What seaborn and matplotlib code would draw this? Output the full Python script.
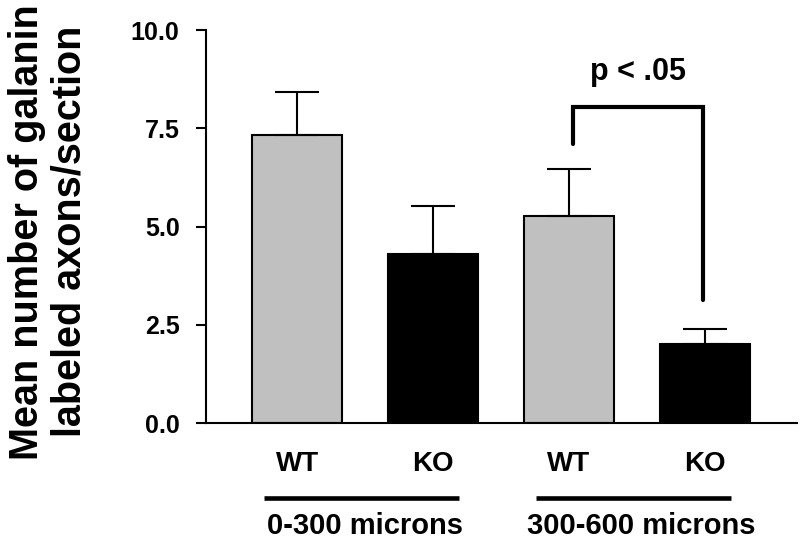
"""
Galanin labeled axons per section, WT vs KO, by distance from lesion.
"""

import numpy as np
import matplotlib
matplotlib.use("Agg")
import matplotlib.pyplot as plt
import matplotlib.transforms as mtransforms
import seaborn as sns

# Data
bar_ids = ['WT_0-300', 'KO_0-300', 'WT_300-600', 'KO_300-600']
genotypes = ['WT', 'KO', 'WT', 'KO']
means = [7.33, 4.30, 5.27, 2.01]
sems = [1.09, 1.22, 1.19, 0.38]
groups = ['0-300 microns', '300-600 microns']
bar_colors = ['#c0c0c0', '#000000', '#c0c0c0', '#000000']
p_text = 'p < .05'

sns.set_style('ticks')
plt.rcParams['font.family'] = ['Liberation Sans', 'DejaVu Sans']
plt.rcParams['font.weight'] = 'bold'
for key in ['text.color', 'axes.labelcolor', 'xtick.color', 'ytick.color', 'axes.edgecolor']:
    plt.rcParams[key] = 'black'

fig = plt.figure(figsize=(8, 5.44), dpi=100)
ax = fig.add_axes([0.2575, 0.2224, 0.739, 0.7224])

sns.barplot(x=bar_ids, y=means, hue=bar_ids, palette=bar_colors, legend=False,
            width=0.66, edgecolor='black', linewidth=1.5, ax=ax)

xpos = np.arange(len(means))
ax.errorbar(xpos, means, yerr=[np.zeros(len(sems)), sems], fmt='none',
            ecolor='black', elinewidth=1.5, capsize=16, capthick=1.5, zorder=1)

ax.set_ylim(0, 10)
ax.set_yticks([0, 2.5, 5, 7.5, 10])
ax.set_yticklabels(['0.0', '2.5', '5.0', '7.5', '10.0'], fontsize=18, fontweight='bold')
ax.set_xlim(-0.67, 3.68)
ax.set_xticks(xpos)
ax.set_xticklabels(genotypes, fontsize=20, fontweight='bold')
ax.tick_params(axis='x', length=0, pad=20)
ax.tick_params(axis='y', length=7, width=1.5, pad=12, direction='out')

for side in ['top', 'right']:
    ax.spines[side].set_visible(False)
ax.spines['left'].set_linewidth(1.5)
ax.spines['bottom'].set_linewidth(1.5)

# group lines and labels under the axis
trans = mtransforms.blended_transform_factory(ax.transData, ax.transAxes)
for i, g in enumerate(groups):
    c = 2 * i + 0.5
    ax.plot([c - 0.74, c + 0.69], [-0.191, -0.191], color='black', lw=3.3,
            transform=trans, clip_on=False, solid_capstyle='butt')
    ax.text(c + 0.03 * i, -0.262, g, transform=trans, ha='center', va='center',
            fontsize=21, fontweight='bold')

# significance bracket
ax.plot([2.03, 2.03, 2.985, 2.985], [7.10, 8.04, 8.04, 3.13], color='black',
        lw=3, clip_on=False, solid_joinstyle='miter')
ax.text(2.51, 8.93, p_text, ha='center', va='center', fontsize=22, fontweight='bold')

fig.text(0.06, 0.574, 'Mean number of galanin\nlabeled axons/section', rotation=90,
         ha='center', va='center', multialignment='center', fontsize=28.5,
         fontweight='bold', linespacing=1.15)

fig.savefig('out.png', dpi=100)
